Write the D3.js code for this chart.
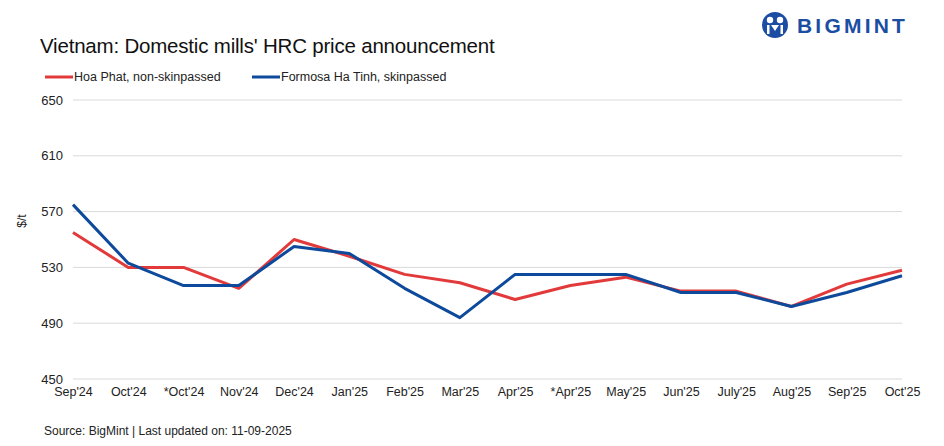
<!DOCTYPE html>
<html><head><meta charset="utf-8">
<script src="https://cdn.jsdelivr.net/npm/d3@7/dist/d3.min.js"></script>
<style>body{margin:0;background:#fff}svg{display:block}text{font-family:"Liberation Sans",Arial,sans-serif}</style>
</head><body>
<svg id="c" width="944" height="446"></svg>
<script>
const categories = ["Sep'24","Oct'24","*Oct'24","Nov'24","Dec'24","Jan'25","Feb'25","Mar'25","Apr'25","*Apr'25","May'25","Jun'25","July'25","Aug'25","Sep'25","Oct'25"];
const hoaPhat = [555,530,530,515,550,538,525,519,507,517,523,513,513,502,518,528];
const formosa = [575,533,517,517,545,540,515,494,525,525,525,512,512,502,512,524];
const yTicks = [450,490,530,570,610,650];
const seriesNames = ["Hoa Phat, non-skinpassed","Formosa Ha Tinh, skinpassed"];
const seriesColors = ["#e23a3a","#0e4a9c"];

const svg = d3.select("#c");
const x = d3.scalePoint().domain(categories).range([73,902]);
const y = d3.scaleLinear().domain([450,650]).range([379,100]);

// title
svg.append("text").attr("x",40).attr("y",53).attr("font-size",20.5).attr("fill","#111").attr("letter-spacing","-0.2")
  .text("Vietnam: Domestic mills' HRC price announcement");

// logo
const logo = svg.append("g");
logo.append("circle").attr("cx",775).attr("cy",25).attr("r",13).attr("fill","#1b4ea3");
logo.append("circle").attr("cx",770).attr("cy",20).attr("r",3.2).attr("fill","#fff");
logo.append("circle").attr("cx",780).attr("cy",20).attr("r",3.2).attr("fill","#fff");
logo.append("rect").attr("x",767).attr("y",25).attr("width",2.5).attr("height",9).attr("fill","#fff");
logo.append("rect").attr("x",780.5).attr("y",25).attr("width",2.5).attr("height",9).attr("fill","#fff");
logo.append("path").attr("d","M771,25 L775,31 L779,25 Z").attr("fill","#fff");
logo.append("text").attr("x",797).attr("y",33).attr("font-size",21).attr("font-weight","bold").attr("letter-spacing","3.2")
  .attr("fill","#1b4ea3").attr("font-family","'DejaVu Sans',sans-serif").text("BIGMINT");

// legend
const legX = [45,252];
seriesNames.forEach((n,i)=>{
  svg.append("line").attr("x1",legX[i]).attr("x2",legX[i]+28).attr("y1",77).attr("y2",77)
    .attr("stroke",seriesColors[i]).attr("stroke-width",3);
  svg.append("text").attr("x",legX[i]+29).attr("y",81).attr("font-size",12.5).attr("fill","#222").text(n);
});

// grid
svg.append("g").selectAll("line").data(yTicks).join("line")
  .attr("x1",73).attr("x2",902).attr("y1",d=>y(d)).attr("y2",d=>y(d))
  .attr("stroke","#d9d9d9").attr("stroke-width",1);

// y axis
const ya = svg.append("g").attr("transform","translate(73,0)")
  .call(d3.axisLeft(y).tickValues(yTicks).tickSize(0).tickPadding(10));
ya.select(".domain").remove();
ya.selectAll("text").attr("font-size",13).attr("fill","#222").attr("font-family","'Liberation Sans',Arial,sans-serif");

svg.append("text").attr("transform","translate(26,221) rotate(-90)").attr("text-anchor","middle")
  .attr("font-size",12).attr("fill","#222").text("$/t");

// x axis
const xa = svg.append("g").attr("transform","translate(0,379)")
  .call(d3.axisBottom(x).tickSize(0).tickPadding(8));
xa.select(".domain").remove();
xa.selectAll("text").attr("font-size",12.5).attr("fill","#222").attr("font-family","'Liberation Sans',Arial,sans-serif");

// lines
const line = d3.line().x((d,i)=>x(categories[i])).y(d=>y(d));
[hoaPhat,formosa].forEach((s,i)=>{
  svg.append("path").datum(s).attr("d",line).attr("fill","none")
    .attr("stroke",seriesColors[i]).attr("stroke-width",3).attr("stroke-linejoin","round");
});

// source
svg.append("text").attr("x",44).attr("y",435).attr("font-size",12).attr("fill","#222")
  .text("Source: BigMint | Last updated on:  11-09-2025");
</script>
</body></html>
